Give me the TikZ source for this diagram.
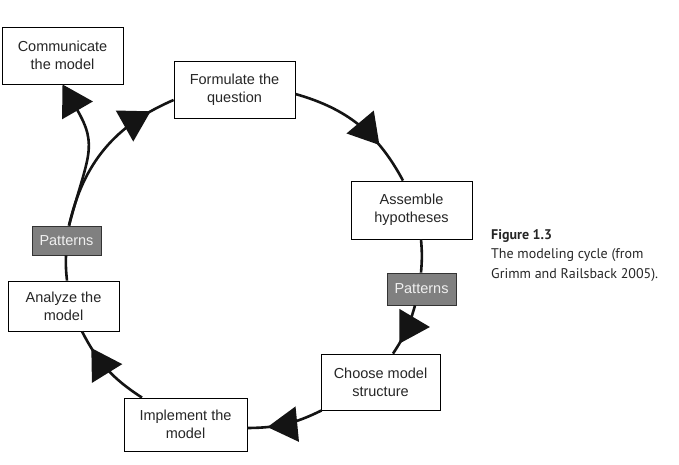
\documentclass[tikz,border=0pt]{standalone}
\usepackage{fontspec}
\setmainfont{Liberation Sans}
\newfontfamily\capfont{PT Sans}
\usetikzlibrary{arrows.meta,decorations.markings}
\tikzset{
  stepbox/.style={draw=black, line width=0.8pt, fill=white, align=center, inner sep=0pt,
    font=\fontsize{14.5}{18}\selectfont, text=black!85},
  patbox/.style={draw=black!80, line width=0.8pt, fill=black!50, inner sep=0pt,
    text=white!94!black, font=\fontsize{14.5}{18}\selectfont},
  flow/.style={line width=2.6pt, draw=black!92},
  bigtri/.tip={Triangle[length=30pt,width=35pt]},
  midarrow/.style={postaction={decorate}, decoration={markings, mark=at position #1 with {\arrow{bigtri}}}},
  captext/.style={anchor=base west, inner sep=0pt, text=black!85, font=\capfont\fontsize{14}{19.5}\selectfont},
}
\begin{document}
\begin{tikzpicture}[x=1pt,y=1pt]
\useasboundingbox (0,0) rectangle (679,-464);
% boxes
\node[stepbox, minimum width=121pt, minimum height=57pt] (comm) at (62.5,-55.5) {Communicate\\the model};
\node[stepbox, minimum width=121pt, minimum height=57pt] (form) at (234.5,-89.5) {Formulate the\\question};
\node[stepbox, minimum width=121pt, minimum height=58pt] (assm) at (411.5,-210) {Assemble\\hypotheses};
\node[patbox, minimum width=69pt, minimum height=32pt] (patR) at (421.5,-289) {Patterns};
\node[stepbox, minimum width=119pt, minimum height=56pt] (choose) at (380.5,-382) {Choose model\\structure};
\node[stepbox, minimum width=123pt, minimum height=53pt] (impl) at (185.5,-424.5) {Implement the\\model};
\node[stepbox, minimum width=111pt, minimum height=50pt] (anal) at (63.5,-306) {Analyze the\\model};
\node[patbox, minimum width=69pt, minimum height=29pt] (patL) at (66.5,-240.5) {Patterns};
% connectors
\draw[flow, midarrow=0.7] ([yshift=-4.5pt]form.east) to[bend left=23] ([xshift=-8.5pt]assm.north);
\draw[flow] ([xshift=9.5pt]assm.south) to[bend left=5] ([xshift=-0.5pt]patR.north);
\draw[flow, midarrow=0.78] ([xshift=-6.5pt]patR.south) to[bend left=9] ([xshift=12.5pt]choose.north);
\draw[flow, midarrow=0.74] ([xshift=1pt]choose.south west) to[bend left=13] ([yshift=-3.5pt]impl.east);
\draw[flow, midarrow=0.79] ([xshift=-43.5pt]impl.north) to[bend left=15] ([xshift=18.5pt]anal.south);
\draw[flow] ([xshift=3.5pt]anal.north) to[bend left=4] ([xshift=-0.5pt]patL.south);
\draw[flow, midarrow=0.85] ([xshift=2.5pt]patL.north) to[bend left=27] ([yshift=-10.5pt]form.west);
\draw[flow, -{bigtri}] ([xshift=2.5pt]patL.north) to[out=75, in=-60, looseness=1.3] (comm.south);
% caption
\node[captext] (cap1) at (491,-239) {\textbf{Figure 1.3}};
\node[captext] (cap2) at (491,-258.5) {The modeling cycle (from};
\node[captext] (cap3) at (491,-278) {Grimm and Railsback 2005).};
\end{tikzpicture}
\end{document}
